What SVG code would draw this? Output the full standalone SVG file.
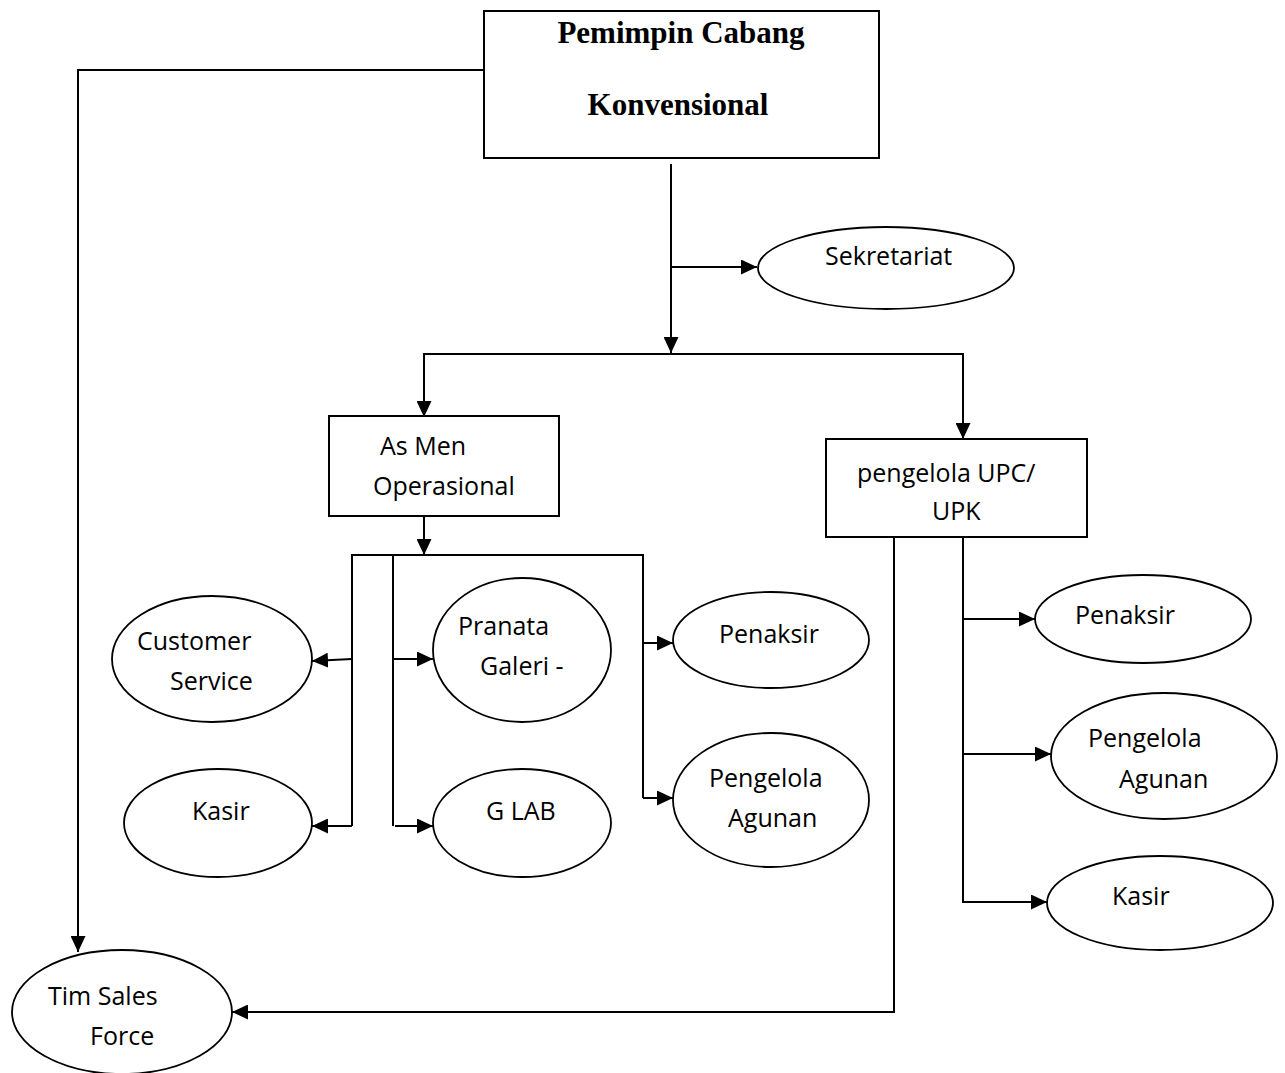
<svg xmlns="http://www.w3.org/2000/svg" width="1285" height="1073" viewBox="0 0 1285 1073">
<style>
.box{fill:#fff;stroke:#000;stroke-width:2}
.ell{fill:#fff;stroke:#000;stroke-width:1.8}
.t{font-family:"Open Sans","Noto Sans","Liberation Sans",sans-serif;font-size:25px;fill:#000}
.h{font-family:"Liberation Serif","Times New Roman",serif;font-size:31px;font-weight:bold;fill:#000}
.c{fill:none;stroke:#000;stroke-width:2}
</style>
<defs>
<marker id="ah" markerUnits="userSpaceOnUse" markerWidth="17" markerHeight="15" refX="16" refY="7.5" orient="auto">
<path d="M0,0 L16,7.5 L0,15 Z" fill="#000"/>
</marker>
</defs>
<rect width="1285" height="1073" fill="#fff"/>
<g id="connectors">
<polyline class="c" points="484,70 78,70 78,952" marker-end="url(#ah)"/>
<line class="c" x1="671" y1="164" x2="671" y2="353" marker-end="url(#ah)"/>
<line class="c" x1="671" y1="267" x2="757" y2="267" marker-end="url(#ah)"/>
<polyline class="c" points="424,417 424,354 963,354 963,439" marker-end="url(#ah)"/>
<line class="c" x1="424" y1="354" x2="424" y2="417" marker-end="url(#ah)"/>
<line class="c" x1="424" y1="516" x2="424" y2="555" marker-end="url(#ah)"/>
<polyline class="c" points="643,798 643,555 352,555 352,826"/>
<line class="c" x1="352" y1="659" x2="312" y2="661" marker-end="url(#ah)"/>
<line class="c" x1="352" y1="826" x2="312" y2="826" marker-end="url(#ah)"/>
<line class="c" x1="393" y1="555" x2="393" y2="826"/>
<line class="c" x1="393" y1="659" x2="433" y2="659" marker-end="url(#ah)"/>
<line class="c" x1="395" y1="826" x2="433" y2="826" marker-end="url(#ah)"/>
<line class="c" x1="643" y1="643" x2="673" y2="643" marker-end="url(#ah)"/>
<line class="c" x1="643" y1="798" x2="673" y2="798" marker-end="url(#ah)"/>
<polyline class="c" points="963,537 963,902 1047,902" marker-end="url(#ah)"/>
<line class="c" x1="963" y1="619" x2="1035" y2="619" marker-end="url(#ah)"/>
<line class="c" x1="963" y1="754" x2="1051" y2="754" marker-end="url(#ah)"/>
<polyline class="c" points="894,537 894,1012 232,1012" marker-end="url(#ah)"/>
</g>
<g id="pemimpin">
<rect class="box" x="484" y="11" width="395" height="147"/>
<text class="h" x="681" y="43" text-anchor="middle">Pemimpin Cabang</text>
<text class="h" x="678" y="115" text-anchor="middle">Konvensional</text>
</g>
<g id="sekretariat">
<ellipse class="ell" cx="886" cy="268" rx="128" ry="41"/>
<text class="t" x="825" y="265">Sekretariat</text>
</g>
<g id="asmen">
<rect class="box" x="329" y="416" width="230" height="100"/>
<text class="t" x="380" y="455">As Men</text>
<text class="t" x="373" y="495">Operasional</text>
</g>
<g id="upc">
<rect class="box" x="826" y="439" width="261" height="98"/>
<text class="t" x="857" y="482">pengelola UPC/</text>
<text class="t" x="932" y="520">UPK</text>
</g>
<g id="customer-service">
<ellipse class="ell" cx="212" cy="659" rx="100" ry="63"/>
<text class="t" x="137" y="650">Customer</text>
<text class="t" x="170" y="690">Service</text>
</g>
<g id="kasir-left">
<ellipse class="ell" cx="218" cy="823" rx="94" ry="54"/>
<text class="t" x="192" y="820">Kasir</text>
</g>
<g id="pranata">
<ellipse class="ell" cx="522" cy="650" rx="89" ry="72"/>
<text class="t" x="458" y="635">Pranata</text>
<text class="t" x="480" y="675">Galeri -</text>
</g>
<g id="glab">
<ellipse class="ell" cx="522" cy="823" rx="89" ry="54"/>
<text class="t" x="486" y="820">G LAB</text>
</g>
<g id="penaksir-mid">
<ellipse class="ell" cx="771" cy="640" rx="98" ry="48"/>
<text class="t" x="719" y="643">Penaksir</text>
</g>
<g id="agunan-mid">
<ellipse class="ell" cx="771" cy="800" rx="98" ry="67"/>
<text class="t" x="709" y="787">Pengelola</text>
<text class="t" x="728" y="827">Agunan</text>
</g>
<g id="penaksir-right">
<ellipse class="ell" cx="1143" cy="619" rx="108" ry="44"/>
<text class="t" x="1075" y="624">Penaksir</text>
</g>
<g id="agunan-right">
<ellipse class="ell" cx="1164" cy="756" rx="113" ry="63"/>
<text class="t" x="1088" y="747">Pengelola</text>
<text class="t" x="1119" y="788">Agunan</text>
</g>
<g id="kasir-right">
<ellipse class="ell" cx="1160" cy="903" rx="113" ry="47"/>
<text class="t" x="1112" y="905">Kasir</text>
</g>
<g id="timsales">
<ellipse class="ell" cx="122" cy="1012" rx="110" ry="62"/>
<text class="t" x="48" y="1005">Tim Sales</text>
<text class="t" x="90" y="1045">Force</text>
</g>
</svg>
